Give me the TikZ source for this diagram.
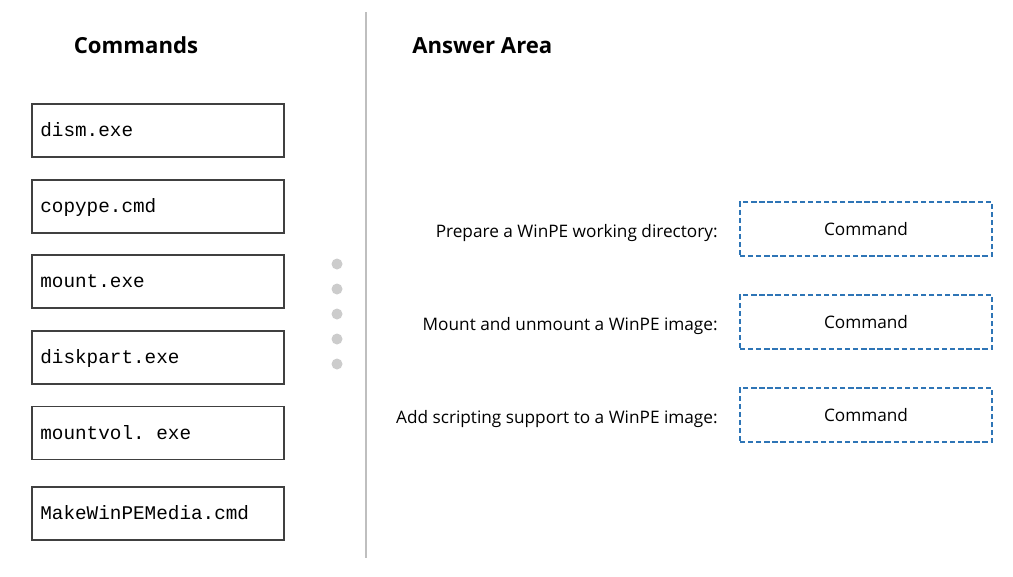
\documentclass[tikz,border=0pt]{standalone}
\usepackage{fontspec}
\setmainfont{Open Sans}
\setmonofont{Liberation Mono}
\usetikzlibrary{calc}
\definecolor{answer-blue}{RGB}{46,117,182}
\definecolor{box-gray}{gray}{0.25}
\definecolor{line-gray}{gray}{0.75}
\definecolor{dot-gray}{gray}{0.8}
\tikzstyle{cmdbox}=[draw=box-gray,line width=0.8pt,minimum width=252*0.02cm,minimum height=53*0.02cm]
\tikzstyle{ansbox}=[draw=answer-blue,line width=1pt,dash pattern=on 3pt off 1.6pt,minimum width=252*0.02cm,minimum height=54*0.02cm]
\tikzstyle{cmdtext}=[font=\ttfamily\fontsize{11}{13}\selectfont,inner sep=0pt]
\tikzstyle{anstext}=[font=\fontsize{9.8}{12}\selectfont,inner sep=0pt]
\tikzstyle{title}=[font=\bfseries\fontsize{12.6}{15}\selectfont,inner sep=0pt]
\newcommand{\newcmd}[3]{% name, top, bottom (pixels)
  \node[cmdbox] (#1) at (158,{(#2+#3)/2}) {};
  \node[cmdtext,anchor=mid west] (#1-text) at (40,{(#2+#3)/2+1.5}) {#1};
}
\newcommand{\newanswer}[3]{% name, label, centre (pixels)
  \node[ansbox] (#1) at (866,#3) {};
  \node[anstext,anchor=mid] (#1-text) at (866,#3+1.5) {Command};
  \node[anstext,anchor=mid east] (#1-label) at (718,#3+4) {#2};
}
\begin{document}
\begin{tikzpicture}[x=0.02cm,y=-0.02cm]
	\useasboundingbox (0,0) rectangle (1013,576);
	\node[title,anchor=mid] (commands) at (136,49) {Commands};
	\node[title,anchor=mid west] (answer-area) at (412,49) {Answer Area};
	\draw[line-gray,line width=0.8pt] (366,12) -- (366,558);
	\newcmd{dism.exe}{104}{157}
	\newcmd{copype.cmd}{180}{233}
	\newcmd{mount.exe}{255}{308}
	\newcmd{diskpart.exe}{331}{384}
	\newcmd{mountvol. exe}{406}{460}
	\newcmd{MakeWinPEMedia.cmd}{487}{540}
	\foreach \i in {0,1,...,4} {
	  \fill[dot-gray] (337,264+25*\i) circle (5.5);
	}
	\newanswer{prepare}{Prepare a WinPE working directory:}{229}
	\newanswer{mount}{Mount and unmount a WinPE image:}{322}
	\newanswer{scripting}{Add scripting support to a WinPE image:}{415}
\end{tikzpicture}
\end{document}
